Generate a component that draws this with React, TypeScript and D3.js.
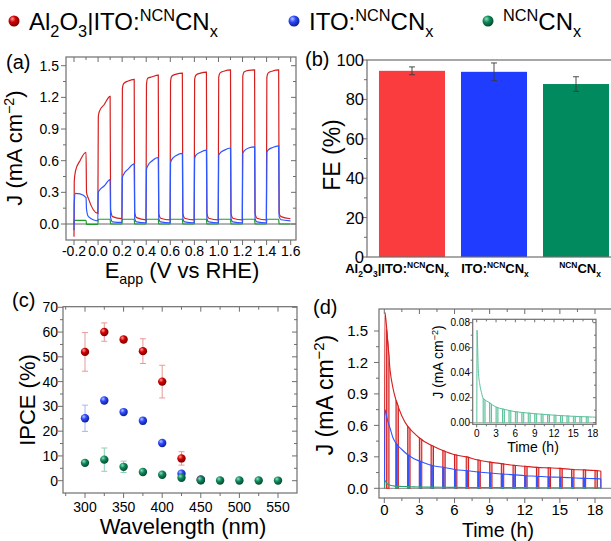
import React from 'react';
import * as d3 from 'd3';

const FONT = '"Liberation Sans", Arial, Helvetica, sans-serif';
const FRAME = '#6e6e6e';

// ---------------- (a) chopped LSV ----------------
const cycleStart = [-0.2, 0.0, 0.2, 0.4, 0.6, 0.8, 1.0, 1.2, 1.4];
const redDip = -0.12;
const redOnFirst = [0.40, 1.02, 1.28, 1.32, 1.35, 1.37, 1.39, 1.40, 1.39];
const redOnKnee = [0.50, 1.07, 1.33, 1.38, 1.40, 1.41, 1.43, 1.44, 1.43];
const redOnMid = [0.60, 1.13, 1.355, 1.395, 1.42, 1.43, 1.45, 1.455, 1.45];
const redOnLast = [0.68, 1.21, 1.37, 1.41, 1.43, 1.44, 1.46, 1.46, 1.46];
const redOffFirst = [0.30, 0.14, 0.11, 0.10, 0.10, 0.10, 0.10, 0.10, 0.10];
const redOffMid = [0.24, 0.07, 0.06, 0.055, 0.055, 0.055, 0.055, 0.055, 0.07];
const redOffLast = [0.10, 0.05, 0.04, 0.04, 0.04, 0.04, 0.04, 0.04, 0.05];

const blueDip = -0.06;
const blueOnFirst = [0.20, 0.30, 0.44, 0.52, 0.58, 0.62, 0.65, 0.67, 0.68];
const blueOnKnee = [0.29, 0.32, 0.47, 0.55, 0.61, 0.65, 0.67, 0.69, 0.70];
const blueOnMid = [0.285, 0.36, 0.52, 0.60, 0.65, 0.68, 0.70, 0.72, 0.725];
const blueOnLast = [0.25, 0.42, 0.57, 0.63, 0.67, 0.70, 0.72, 0.73, 0.74];
const blueOffFirst = [0.14, 0.06, 0.05, 0.05, 0.05, 0.05, 0.05, 0.05, 0.07];
const blueOffMid = [0.07, 0.02, 0.02, 0.02, 0.02, 0.02, 0.02, 0.02, 0.04];
const blueOffLast = [0.03, 0.015, 0.012, 0.012, 0.012, 0.012, 0.012, 0.012, 0.03];

const greenDip = 0.0;
const greenOn = [0.035, 0.045, 0.045, 0.045, 0.045, 0.045, 0.045, 0.045, 0.045];
const greenOff = [-0.004, 0.0, 0.0, 0.0, 0.0, 0.0, 0.0, 0.0, 0.0];

// ---------------- (b) Faradaic efficiency ----------------
const feCats = ['Al2O3|ITO:NCNCNx', 'ITO:NCNCNx', 'NCNCNx'];
const feValues = [94.5, 94.0, 87.8];
const feErr = [2.0, 4.5, 3.7];

// ---------------- (c) IPCE ----------------
const wlRed = [300, 325, 350, 375, 400, 425, 450];
const ipceRed = [52, 60, 57, 52.3, 40, 9, 0.5];
const errRed = [7.8, 3.7, 1, 5.0, 6.6, 2.7, 0.5];
const wlBlue = [300, 325, 350, 375, 400, 425, 450];
const ipceBlue = [25.2, 32.4, 27.7, 24.2, 15.2, 2.8, 0.3];
const errBlue = [5.3, 1, 1, 1.3, 1, 1, 0.3];
const wlGreen = [300, 325, 350, 375, 400, 425, 450, 475, 500, 525, 550];
const ipceGreen = [7.2, 8.5, 5.6, 3.5, 2.4, 1.2, 0.2, 0.1, 0.1, 0.1, 0.05];
const errGreen = [1, 4.7, 2.3, 1, 0.8, 0.5, 0.2, 0.1, 0.1, 0.1, 0.05];

// ---------------- (d) stability (chopped) ----------------
const dTime = [0.05, 0.25, 0.5, 0.75, 1, 1.5, 2, 2.5, 3, 4, 5, 6, 7, 8, 9, 10, 11, 12, 13, 14, 15, 16, 17, 18, 18.5];
const redD = [1.68, 1.46, 1.12, 0.95, 0.84, 0.69, 0.59, 0.53, 0.48, 0.41, 0.36, 0.32, 0.30, 0.27, 0.25, 0.235, 0.22, 0.21, 0.20, 0.195, 0.19, 0.18, 0.175, 0.17, 0.165];
const blueD = [0.75, 0.66, 0.57, 0.48, 0.43, 0.37, 0.32, 0.285, 0.26, 0.22, 0.20, 0.18, 0.168, 0.156, 0.146, 0.137, 0.13, 0.12, 0.115, 0.108, 0.105, 0.10, 0.095, 0.092, 0.09];
const greenD = [0.074, 0.042, 0.03, 0.024, 0.0195, 0.0175, 0.016, 0.014, 0.0125, 0.011, 0.0098, 0.0088, 0.0082, 0.0077, 0.0072, 0.0068, 0.0064, 0.006, 0.0057, 0.0054, 0.0051, 0.0049, 0.0047, 0.0045, 0.0044];
const redGaps = [0.2, 1, 2, 3, 4, 5, 6, 7, 8, 9, 10, 11, 12, 13, 14, 15, 16, 17, 18];
const hourGaps = [1, 2, 3, 4, 5, 6, 7, 8, 9, 10, 11, 12, 13, 14, 15, 16, 17];

// ---------------- axis ticks ----------------
const aXTicks = [-0.2, 0, 0.2, 0.4, 0.6, 0.8, 1.0, 1.2, 1.4, 1.6];
const aYTicks = [0, 0.3, 0.6, 0.9, 1.2, 1.5];
const bYTicks = [0, 20, 40, 60, 80, 100];
const cXTicks = [300, 350, 400, 450, 500, 550];
const cYTicks = [0, 10, 20, 30, 40, 50, 60, 70];
const dXTicks = [0, 3, 6, 9, 12, 15, 18];
const dYTicks = [0, 0.3, 0.6, 0.9, 1.2, 1.5];
const iYTicks = [0, 0.02, 0.04, 0.06, 0.08];

const COLORS = { red: '#d41f1f', blue: '#2f55ff', greenA: '#1f9a2a', greenD: '#2aa072', greenI: '#5cc09a' };
const SPHERE = [
  { id: 'sR', base: '#d00000', hi: '#ff9a9a', dark: '#7a0000' },
  { id: 'sB', base: '#2a48ff', hi: '#b8c4ff', dark: '#101f90' },
  { id: 'sG', base: '#0f8a5c', hi: '#8fe0bd', dark: '#064a30' },
];
const BAR_COLORS = ['#fa3c3e', '#1f3cff', '#008a5e'];

type Seg = [string, 'n' | 'b' | 'p'];
function rich(segs: Seg[], fs: number, small = 0.65) {
  let cur = 0;
  return segs.map(([t, k], i) => {
    const target = k === 'b' ? fs * 0.28 : k === 'p' ? -fs * 0.38 : 0;
    const dy = target - cur;
    cur = target;
    return (
      <tspan key={i} dy={dy} fontSize={k === 'n' ? fs : fs * small}>
        {t}
      </tspan>
    );
  });
}
const NAME_SEGS: Seg[][] = [
  [['Al', 'n'], ['2', 'b'], ['O', 'n'], ['3', 'b'], ['|ITO:', 'n'], ['NCN', 'p'], ['CN', 'n'], ['x', 'b']],
  [['ITO:', 'n'], ['NCN', 'p'], ['CN', 'n'], ['x', 'b']],
  [['NCN', 'p'], ['CN', 'n'], ['x', 'b']],
];
const J_SEGS: Seg[] = [['J (mA cm', 'n'], ['−2', 'p'], [')', 'n']];

function Frame(props: any) {
  const { box, xs, ys, xMajor = [], xMinor = [], yMajor, yMinor, xFmt, yFmt, fs, xLabY, yLabX, tl = 5, ml = 3, mirrorRight = true } = props;
  const [L, T, R, B] = box;
  const st = { stroke: FRAME, strokeWidth: 1 };
  return (
    <g>
      <rect x={L} y={T} width={R - L} height={B - T} fill="none" stroke={FRAME} strokeWidth={1.2} />
      {xs &&
        xMajor.map((v: number) => (
          <g key={'xM' + v}>
            <line x1={xs(v)} x2={xs(v)} y1={B} y2={B + tl} {...st} />
            <line x1={xs(v)} x2={xs(v)} y1={T} y2={T + tl} {...st} />
            <text x={xs(v)} y={xLabY} textAnchor="middle" fontSize={fs}>
              {xFmt(v)}
            </text>
          </g>
        ))}
      {xs &&
        xMinor.map((v: number) => (
          <g key={'xm' + v}>
            <line x1={xs(v)} x2={xs(v)} y1={B} y2={B + ml} {...st} />
            <line x1={xs(v)} x2={xs(v)} y1={T} y2={T + ml} {...st} />
          </g>
        ))}
      {yMajor.map((v: number) => (
        <g key={'yM' + v}>
          <line x1={L - tl} x2={L} y1={ys(v)} y2={ys(v)} {...st} />
          {mirrorRight && <line x1={R - tl} x2={R} y1={ys(v)} y2={ys(v)} {...st} />}
          <text x={yLabX} y={ys(v)} dy="0.36em" textAnchor="end" fontSize={fs}>
            {yFmt(v)}
          </text>
        </g>
      ))}
      {yMinor.map((v: number) => (
        <g key={'ym' + v}>
          <line x1={L - ml} x2={L} y1={ys(v)} y2={ys(v)} {...st} />
          {mirrorRight && <line x1={R - ml} x2={R} y1={ys(v)} y2={ys(v)} {...st} />}
        </g>
      ))}
    </g>
  );
}

function mids(ticks: number[]) {
  const out: number[] = [];
  for (let i = 0; i < ticks.length - 1; i++) out.push((ticks[i] + ticks[i + 1]) / 2);
  return out;
}

function lsvPoints(dip: number, onF: number[], onK: number[], onM: number[], onL: number[], offF: number[], offM: number[], offL: number[]) {
  const pts: [number, number][] = [[-0.2, dip]];
  cycleStart.forEach((s, i) => {
    pts.push(
      [s + 0.002, onF[i]],
      [s + 0.012, onK[i]],
      [s + 0.05, onM[i]],
      [s + 0.1, onL[i]],
      [s + 0.104, offF[i]],
      [s + 0.12, offM[i]],
      [s + 0.198, offL[i]]
    );
  });
  return pts;
}

function ChopTrace(props: any) {
  const { sx, sy, vals, gaps, gw, color, fill, sw = 1.1 } = props;
  const env = d3.scaleLinear<number, number>().domain(dTime).range(vals).clamp(true);
  const pts: [number, number][] = [[dTime[0] - 0.03, 0], ...dTime.map((t, i) => [t, vals[i]] as [number, number])];
  const line = d3
    .line<[number, number]>()
    .x((d) => sx(d[0]))
    .y((d) => sy(d[1]))
    .curve(d3.curveMonotoneX);
  const last = dTime[dTime.length - 1];
  return (
    <g>
      <path d={line(pts) || ''} fill="none" stroke={color} strokeWidth={sw} />
      {gaps.map((g: number) => (
        <path
          key={g}
          d={`M${sx(g)},${sy(0)}V${sy(env(g))}L${sx(g + gw)},${sy(env(g + gw))}V${sy(0)}Z`}
          fill={fill}
          stroke={color}
          strokeWidth={sw}
        />
      ))}
      <line x1={sx(last)} x2={sx(last)} y1={sy(vals[vals.length - 1])} y2={sy(0)} stroke={color} strokeWidth={sw} />
    </g>
  );
}

export default function App() {
  const W = 611;
  const H = 541;

  // (a)
  const aBox = [66, 57, 296, 240];
  const ax = d3.scaleLinear().domain([-0.2, 1.6]).range([74, 290.7]);
  const ay = d3.scaleLinear().domain([0, 1.5]).range([224, 65.7]);
  const lineA = d3
    .line<[number, number]>()
    .x((d) => ax(d[0]))
    .y((d) => ay(d[1]))
    .curve(d3.curveMonotoneX);
  const redPts = lsvPoints(redDip, redOnFirst, redOnKnee, redOnMid, redOnLast, redOffFirst, redOffMid, redOffLast);
  const bluePts = lsvPoints(blueDip, blueOnFirst, blueOnKnee, blueOnMid, blueOnLast, blueOffFirst, blueOffMid, blueOffLast);
  const greenPts = lsvPoints(greenDip, greenOn, greenOn, greenOn, greenOn, greenOff, greenOff, greenOff);

  // (b)
  const bBox = [367, 60, 640, 257];
  const by = d3.scaleLinear().domain([0, 100]).range([257, 60]);
  const bx = d3.scaleBand<string>().domain(feCats).range([367, 621]).paddingInner(0.195).paddingOuter(0.146);
  const labelShift = [-15, 1, 4];

  // (c)
  const cBox = [63, 306.7, 297, 493];
  const cx = d3.scaleLinear().domain([300, 550]).range([85, 278]);
  const cy = d3.scaleLinear().domain([0, 70]).range([480.7, 307.3]);
  const ipceSets = [
    { wl: wlRed, v: ipceRed, e: errRed, grad: 'sR', ec: '#e79a9a' },
    { wl: wlBlue, v: ipceBlue, e: errBlue, grad: 'sB', ec: '#a8b6f4' },
    { wl: wlGreen, v: ipceGreen, e: errGreen, grad: 'sG', ec: '#8fcfb2' },
  ];

  // (d)
  const dBox = [379, 309, 640, 498];
  const dx = d3.scaleLinear().domain([0, 18]).range([384.3, 595]);
  const dy = d3.scaleLinear().domain([0, 1.5]).range([488.3, 331]);
  const iBox = [472.7, 319.3, 596, 424.3];
  const ix = d3.scaleLinear().domain([0, 18]).range([476.7, 592.7]);
  const iy = d3.scaleLinear().domain([0, 0.08]).range([422.7, 322.7]);

  const minorOf = (ticks: number[]) => mids(ticks);
  const legendX = [14, 294, 488];

  return (
    <svg
      width={W}
      height={H}
      viewBox={`0 0 ${W} ${H}`}
      style={{ position: 'absolute', left: 0, top: 0, background: '#fff' }}
      fontFamily={FONT}
    >
      <defs>
        {SPHERE.map((s) => (
          <radialGradient key={s.id} id={s.id} cx="38%" cy="35%" r="65%" fx="35%" fy="30%">
            <stop offset="0%" stopColor={s.hi} />
            <stop offset="45%" stopColor={s.base} />
            <stop offset="100%" stopColor={s.dark} />
          </radialGradient>
        ))}
        <clipPath id="clipA">
          <rect x={aBox[0]} y={aBox[1]} width={aBox[2] - aBox[0]} height={aBox[3] - aBox[1]} />
        </clipPath>
        <clipPath id="clipD">
          <rect x={dBox[0]} y={dBox[1]} width={dBox[2] - dBox[0]} height={dBox[3] - dBox[1]} />
        </clipPath>
        <clipPath id="clipI">
          <rect x={iBox[0]} y={iBox[1]} width={iBox[2] - iBox[0]} height={iBox[3] - iBox[1]} />
        </clipPath>
      </defs>
      <rect x={0} y={0} width={W} height={H} fill="#fff" />

      {/* Legend */}
      {legendX.map((lx, i) => (
        <g key={'lg' + i}>
          <circle cx={lx} cy={21} r={5.5} fill={`url(#${SPHERE[i].id})`} />
          <text x={lx + 15} y={30} fontSize={24}>
            {rich(NAME_SEGS[i], 24, 0.68)}
          </text>
        </g>
      ))}

      {/* ---------------- (a) ---------------- */}
      <text x={6} y={69} fontSize={20}>(a)</text>
      <line x1={aBox[0]} x2={aBox[2]} y1={ay(0)} y2={ay(0)} stroke="#9a9a9a" strokeWidth={1.3} />
      <g clipPath="url(#clipA)" fill="none" strokeWidth={1.2}>
        <path d={lineA(greenPts) || ''} stroke={COLORS.greenA} />
        <path d={lineA(redPts) || ''} stroke={COLORS.red} />
        <path d={lineA(bluePts) || ''} stroke={COLORS.blue} />
      </g>
      <Frame
        box={aBox}
        xs={ax}
        ys={ay}
        xMajor={aXTicks}
        xMinor={minorOf(aXTicks)}
        yMajor={aYTicks}
        yMinor={minorOf(aYTicks)}
        xFmt={(v: number) => v.toFixed(1)}
        yFmt={(v: number) => v.toFixed(1)}
        fs={14}
        xLabY={256}
        yLabX={59}
      />
      <text transform={`translate(22,148) rotate(-90)`} textAnchor="middle" dy="0.35em" fontSize={22}>
        {rich(J_SEGS, 22)}
      </text>
      <text x={182} y={278} textAnchor="middle" fontSize={22}>
        {rich([['E', 'n'], ['app', 'b'], [' (V vs RHE)', 'n']], 22)}
      </text>

      {/* ---------------- (b) ---------------- */}
      <text x={305} y={66} fontSize={20}>(b)</text>
      {feCats.map((c, i) => (
        <rect key={c} x={bx(c)} y={by(feValues[i])} width={bx.bandwidth()} height={by(0) - by(feValues[i])} fill={BAR_COLORS[i]} />
      ))}
      {feCats.map((c, i) => {
        const mx = (bx(c) as number) + bx.bandwidth() / 2;
        return (
          <g key={'e' + c} stroke="#3a3a3a" strokeWidth={0.9}>
            <line x1={mx} x2={mx} y1={by(feValues[i] + feErr[i])} y2={by(feValues[i] - feErr[i])} />
            <line x1={mx - 3} x2={mx + 3} y1={by(feValues[i] + feErr[i])} y2={by(feValues[i] + feErr[i])} />
            <line x1={mx - 3} x2={mx + 3} y1={by(feValues[i] - feErr[i])} y2={by(feValues[i] - feErr[i])} />
          </g>
        );
      })}
      <Frame
        box={bBox}
        ys={by}
        yMajor={bYTicks}
        yMinor={minorOf(bYTicks)}
        yFmt={(v: number) => String(v)}
        fs={16.5}
        yLabX={364}
        mirrorRight={false}
      />
      {feCats.map((c, i) => (
        <text key={'bl' + c} x={(bx(c) as number) + bx.bandwidth() / 2 + labelShift[i]} y={273} textAnchor="middle" fontSize={13} fontWeight="bold">
          {rich(NAME_SEGS[i], 13)}
        </text>
      ))}
      <text transform={`translate(332,155) rotate(-90)`} textAnchor="middle" dy="0.35em" fontSize={23}>
        FE (%)
      </text>

      {/* ---------------- (c) ---------------- */}
      <text x={12} y={307} fontSize={20}>(c)</text>
      {ipceSets.map((s, k) => (
        <g key={'c' + k}>
          {s.wl.map((w, i) => (
            <g key={'ce' + w} stroke={s.ec} strokeWidth={1}>
              <line x1={cx(w)} x2={cx(w)} y1={cy(s.v[i] + s.e[i])} y2={cy(s.v[i] - s.e[i])} />
              <line x1={cx(w) - 3} x2={cx(w) + 3} y1={cy(s.v[i] + s.e[i])} y2={cy(s.v[i] + s.e[i])} />
              <line x1={cx(w) - 3} x2={cx(w) + 3} y1={cy(s.v[i] - s.e[i])} y2={cy(s.v[i] - s.e[i])} />
            </g>
          ))}
          {s.wl.map((w, i) => (
            <circle key={'cp' + w} cx={cx(w)} cy={cy(s.v[i])} r={4.2} fill={`url(#${s.grad})`} />
          ))}
        </g>
      ))}
      <Frame
        box={cBox}
        xs={cx}
        ys={cy}
        xMajor={cXTicks}
        xMinor={[275, ...minorOf(cXTicks), 575].filter((v) => cx(v) > cBox[0] && cx(v) < cBox[2])}
        yMajor={cYTicks}
        yMinor={[-5, ...minorOf(cYTicks)].filter((v) => cy(v) < cBox[3])}
        xFmt={(v: number) => String(v)}
        yFmt={(v: number) => String(v)}
        fs={14}
        xLabY={512}
        yLabX={58}
      />
      <text transform={`translate(27,400) rotate(-90)`} textAnchor="middle" dy="0.35em" fontSize={22}>
        IPCE (%)
      </text>
      <text x={183} y={534} textAnchor="middle" fontSize={22}>
        Wavelength (nm)
      </text>

      {/* ---------------- (d) ---------------- */}
      <text x={313} y={314} fontSize={20}>(d)</text>
      <line x1={dBox[0]} x2={dBox[2]} y1={dy(0)} y2={dy(0)} stroke="#9a9a9a" strokeWidth={1.3} />
      <g clipPath="url(#clipD)">
        <ChopTrace sx={dx} sy={dy} vals={redD} gaps={redGaps} gw={0.2} color={COLORS.red} fill="#f2b0b0" />
        <ChopTrace sx={dx} sy={dy} vals={blueD} gaps={hourGaps} gw={0.1} color={COLORS.blue} fill="#4a5fd8" />
        <ChopTrace sx={dx} sy={dy} vals={greenD} gaps={hourGaps} gw={0.1} color={COLORS.greenD} fill="#8fd0b5" />
      </g>
      <Frame
        box={dBox}
        xs={dx}
        ys={dy}
        xMajor={dXTicks}
        xMinor={minorOf(dXTicks).concat([19.5])}
        yMajor={dYTicks}
        yMinor={minorOf(dYTicks)}
        xFmt={(v: number) => String(v)}
        yFmt={(v: number) => v.toFixed(1)}
        fs={15}
        xLabY={515}
        yLabX={368}
        mirrorRight={false}
      />
      <text transform={`translate(333,395) rotate(-90)`} textAnchor="middle" dy="0.35em" fontSize={23}>
        {rich(J_SEGS, 23)}
      </text>
      <text x={498} y={537} textAnchor="middle" fontSize={19.5}>
        Time (h)
      </text>

      {/* inset */}
      <rect x={iBox[0]} y={iBox[1]} width={iBox[2] - iBox[0]} height={iBox[3] - iBox[1]} fill="#fff" />
      <line x1={iBox[0]} x2={iBox[2]} y1={iy(0)} y2={iy(0)} stroke="#a8a8a8" strokeWidth={1} />
      <g clipPath="url(#clipI)">
        <ChopTrace sx={ix} sy={iy} vals={greenD} gaps={hourGaps} gw={0.3} color={COLORS.greenI} fill="#c4e8d8" sw={1} />
      </g>
      <Frame
        box={iBox}
        xs={ix}
        ys={iy}
        xMajor={dXTicks}
        xMinor={minorOf(dXTicks)}
        yMajor={iYTicks}
        yMinor={minorOf(iYTicks)}
        xFmt={(v: number) => String(v)}
        yFmt={(v: number) => v.toFixed(2)}
        fs={10}
        xLabY={437}
        yLabX={470}
        tl={3}
        ml={2}
      />
      <text transform={`translate(443,362) rotate(-90)`} textAnchor="middle" dy="0.35em" fontSize={14}>
        {rich(J_SEGS, 14)}
      </text>
      <text x={533} y={452} textAnchor="middle" fontSize={14}>
        Time (h)
      </text>
    </svg>
  );
}
